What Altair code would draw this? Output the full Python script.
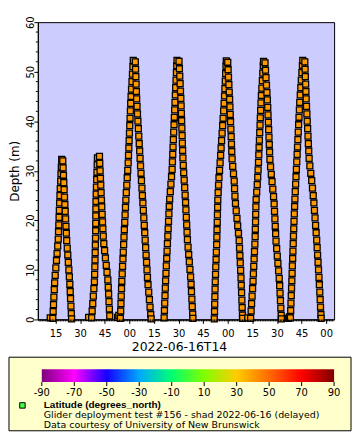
import altair as alt
import pandas as pd

# Glider yos: time in minutes after 2022-06-16 13:00 (local), depth in metres
yo1_minutes = [11.8, 13.36, 13.58, 13.80, 14.03, 14.27, 14.48, 14.83, 15.22, 15.61, 15.97, 16.36, 16.69,
               16.86, 17.02, 17.19, 17.35, 17.52, 17.72, 17.93, 18.15, 18.36, 18.57, 18.79,
               19.44, 19.64, 19.86, 20.08, 20.28, 20.50, 20.73, 20.94, 21.17, 21.39, 21.61, 21.84,
               22.18, 22.50, 22.82, 23.15, 23.46, 23.75, 23.98, 24.19, 24.43, 24.66, 24.83]
yo1_depth = [0.3, 0.2, 1.6, 3.0, 4.5, 6.0, 7.4, 8.9, 10.4, 11.9, 13.3, 14.8, 16.2,
             17.7, 19.1, 20.6, 22.0, 23.5, 25.0, 26.4, 27.9, 29.4, 30.8, 32.3,
             32.0, 30.6, 29.1, 27.6, 26.2, 24.7, 23.2, 21.8, 20.3, 18.8, 17.4, 15.9,
             14.4, 13.0, 11.5, 10.0, 8.6, 7.1, 5.6, 4.2, 2.7, 1.2, 0.1]

yo2_minutes = [35.2, 37.04, 37.36, 37.72, 38.07, 38.41, 38.74, 38.88, 38.99, 39.10, 39.21, 39.32, 39.41,
               39.47, 39.52, 39.58, 39.63, 39.69, 39.83, 39.97, 40.13, 40.28, 40.43, 40.58,
               41.82, 42.01, 42.21, 42.42, 42.61, 42.81, 43.02, 43.23, 43.45, 43.68, 43.90, 44.12,
               44.47, 44.94, 45.44, 45.94, 46.41, 46.90, 47.17, 47.39, 47.62, 47.85, 48.07]
yo2_depth = [0.4, 0.3, 1.7, 3.2, 4.7, 6.2, 7.6, 9.1, 10.6, 12.0, 13.5, 15.0, 16.4,
             17.9, 19.4, 20.9, 22.3, 23.8, 25.3, 26.7, 28.2, 29.7, 31.2, 32.6,
             32.9, 31.5, 30.0, 28.5, 27.1, 25.6, 24.1, 22.7, 21.2, 19.7, 18.3, 16.8,
             15.3, 13.9, 12.4, 10.9, 9.5, 8.0, 6.5, 5.1, 3.6, 2.1, 0.7]

yo3_minutes = [52.9, 53.6, 54.57, 54.75, 54.92, 55.09, 55.27, 55.44, 55.67, 55.89, 56.12, 56.32, 56.55,
               56.77, 56.99, 57.22, 57.44, 57.67, 57.90, 58.18, 58.47, 58.75, 59.04, 59.32, 59.53,
               59.72, 59.91, 60.10, 60.29, 60.48, 60.67, 60.86, 61.09, 61.36, 61.64, 61.92, 62.19, 62.42,
               63.67, 63.84, 64.00, 64.16, 64.33, 64.49, 64.72, 64.99, 65.25, 65.52, 65.78, 66.05,
               66.32, 66.58, 66.85, 67.14, 67.42, 67.71, 67.99, 68.27, 68.56, 68.84, 69.12, 69.40,
               69.68, 69.96, 70.24, 70.52, 70.80, 71.08, 71.43, 71.84, 72.25, 72.65, 73.06, 73.31]
yo3_depth = [0.4, 0.8, 0.2, 1.7, 3.2, 4.7, 6.2, 7.7, 9.2, 10.7, 12.2, 13.6, 15.1,
             16.6, 18.1, 19.6, 21.1, 22.6, 24.1, 25.6, 27.1, 28.6, 30.1, 31.6, 33.1,
             34.6, 36.1, 37.6, 39.1, 40.6, 42.1, 43.6, 45.0, 46.5, 48.0, 49.5, 51.0, 52.3,
             52.0, 50.5, 49.0, 47.5, 46.0, 44.5, 43.0, 41.5, 40.0, 38.5, 37.0, 35.5,
             34.0, 32.5, 31.0, 29.5, 28.0, 26.5, 25.0, 23.5, 22.0, 20.5, 19.0, 17.5,
             16.0, 14.5, 13.0, 11.5, 10.0, 8.5, 7.0, 5.5, 4.0, 2.5, 1.0, 0.1]

yo4_minutes = [81.25, 81.42, 81.59, 81.77, 81.95, 82.12, 82.35, 82.57, 82.79, 83.02, 83.24, 83.47,
               83.69, 83.92, 84.14, 84.36, 84.62, 85.00, 85.38, 85.76, 86.10, 86.30, 86.49, 86.68,
               86.88, 87.07, 87.27, 87.46, 87.66, 87.85, 88.07, 88.28, 88.51, 88.73, 88.93, 89.09,
               90.33, 90.55, 90.77, 90.99, 91.21, 91.43, 91.61, 91.76, 91.91, 92.06, 92.21, 92.36,
               92.52, 92.67, 92.90, 93.18, 93.47, 93.75, 94.04, 94.30, 94.53, 94.76, 94.99, 95.21,
               95.44, 95.82, 96.21, 96.59, 96.98, 97.37, 97.68, 97.91, 98.15, 98.38, 98.62, 98.76]
yo4_depth = [0.3, 1.8, 3.3, 4.8, 6.3, 7.8, 9.3, 10.8, 12.3, 13.8, 15.3, 16.8,
             18.3, 19.8, 21.3, 22.8, 24.3, 25.8, 27.3, 28.8, 30.3, 31.8, 33.3, 34.8,
             36.3, 37.8, 39.3, 40.8, 42.3, 43.8, 45.3, 46.8, 48.3, 49.8, 51.2, 52.3,
             52.1, 50.6, 49.1, 47.6, 46.1, 44.6, 43.1, 41.6, 40.1, 38.6, 37.1, 35.6,
             34.1, 32.6, 31.1, 29.6, 28.1, 26.6, 25.1, 23.6, 22.1, 20.6, 19.1, 17.6,
             16.1, 14.6, 13.1, 11.6, 10.1, 8.6, 7.1, 5.6, 4.1, 2.6, 1.1, 0.2]

yo5_minutes = [111.82, 111.95, 112.06, 112.18, 112.29, 112.41, 112.57, 112.73, 112.90, 113.07, 113.24, 113.38,
               113.49, 113.61, 113.72, 113.84, 113.96, 114.18, 114.41, 114.68, 115.02, 115.36, 115.68, 115.98,
               116.28, 116.59, 116.89, 117.19, 117.50, 117.80, 118.05, 118.27, 118.50, 118.73, 118.96, 119.12,
               120.02, 120.24, 120.47, 120.70, 120.93, 121.15, 121.35, 121.54, 121.73, 121.92, 122.11, 122.30,
               122.48, 122.68, 123.06, 123.52, 123.96, 124.18, 124.41, 124.73, 125.18, 125.64, 126.09, 126.55,
               126.98, 127.21, 127.43, 127.65, 127.87, 128.09, 128.28, 128.46, 128.64, 128.81, 128.99, 129.07]
yo5_depth = [0.1, 1.6, 3.1, 4.6, 6.1, 7.6, 9.1, 10.6, 12.1, 13.6, 15.1, 16.6,
             18.1, 19.6, 21.1, 22.6, 24.1, 25.6, 27.1, 28.6, 30.1, 31.6, 33.1, 34.6,
             36.1, 37.6, 39.1, 40.6, 42.1, 43.6, 45.1, 46.6, 48.1, 49.6, 51.1, 52.2,
             51.9, 50.4, 48.9, 47.4, 45.9, 44.4, 42.9, 41.4, 39.9, 38.4, 36.9, 35.4,
             33.9, 32.4, 30.9, 29.4, 27.9, 26.4, 24.9, 23.4, 21.9, 20.4, 18.9, 17.4,
             15.9, 14.4, 12.9, 11.4, 9.9, 8.4, 6.9, 5.4, 3.9, 2.4, 0.9, 0.2]

yo6_minutes = [132.2, 133.98, 134.27, 134.56, 134.85, 135.15, 135.44, 135.66, 135.88, 136.10, 136.33, 136.55,
               136.72, 136.84, 136.95, 137.06, 137.18, 137.32, 137.66, 138.00, 138.29, 138.52, 138.75,
               138.94, 139.13, 139.32, 139.51, 139.70, 139.88, 140.08, 140.27, 140.53, 140.81, 141.10,
               141.38, 141.67, 141.84,
               142.76, 143.05, 143.33, 143.62, 143.90, 144.19, 144.39, 144.58, 144.77, 144.96, 145.15, 145.34,
               145.53, 145.72, 146.12, 146.58, 147.03, 147.48, 147.94, 148.29, 148.52, 148.75, 148.97, 149.20,
               149.45, 149.84, 150.22, 150.61, 151.00, 151.39, 151.67, 151.90, 152.14, 152.37, 152.60, 152.71]
yo6_depth = [0.3, 0.2, 1.7, 3.2, 4.7, 6.2, 7.7, 9.2, 10.7, 12.2, 13.7, 15.2,
             16.7, 18.2, 19.7, 21.2, 22.7, 24.2, 25.7, 27.2, 28.7, 30.2, 31.7,
             33.2, 34.7, 36.2, 37.7, 39.2, 40.7, 42.2, 43.7, 45.2, 46.7, 48.2,
             49.7, 51.2, 52.1,
             51.8, 50.3, 48.8, 47.3, 45.8, 44.3, 42.8, 41.3, 39.8, 38.3, 36.8, 35.3,
             33.8, 32.3, 30.8, 29.3, 27.8, 26.3, 24.8, 23.3, 21.8, 20.3, 18.8, 17.3,
             15.8, 14.3, 12.8, 11.3, 9.8, 8.3, 6.8, 5.3, 3.8, 2.3, 0.8, 0.1]

yo7_minutes = [156.9, 157.6, 158.22, 158.39, 158.56, 158.74, 158.92, 159.09, 159.25, 159.42, 159.59, 159.76,
               159.92, 160.09, 160.26, 160.43, 160.60, 160.78, 160.96, 161.18, 161.41, 161.64, 161.87,
               162.09, 162.32, 162.55, 162.78, 163.00, 163.23, 163.45, 163.68, 163.91, 164.22, 164.55,
               164.88, 165.21, 165.54, 165.76,
               167.00, 167.17, 167.33, 167.50, 167.66, 167.82, 168.03, 168.26, 168.48, 168.72, 168.94, 169.17,
               169.39, 169.62, 170.08, 170.64, 171.21, 171.67, 172.12, 172.54, 172.88, 173.22, 173.56, 173.90,
               174.24, 174.52, 174.79, 175.07, 175.35, 175.63, 175.88, 176.12, 176.35, 176.58, 176.81, 176.94]
yo7_depth = [0.2, 0.5, 0.3, 1.8, 3.3, 4.8, 6.3, 7.8, 9.3, 10.8, 12.3, 13.8,
             15.3, 16.8, 18.3, 19.8, 21.3, 22.8, 24.3, 25.8, 27.3, 28.8, 30.3,
             31.8, 33.3, 34.8, 36.3, 37.8, 39.3, 40.8, 42.3, 43.8, 45.3, 46.8,
             48.3, 49.8, 51.3, 52.3,
             52.0, 50.5, 49.0, 47.5, 46.0, 44.5, 43.0, 41.5, 40.0, 38.5, 37.0, 35.5,
             34.0, 32.5, 31.0, 29.5, 28.0, 26.5, 25.0, 23.5, 22.0, 20.5, 19.0, 17.5,
             16.0, 14.5, 13.0, 11.5, 10.0, 8.5, 7.0, 5.5, 4.0, 2.5, 1.0, 0.2]

# Colour bar (latitude) and legend text
cbar_values = [-90, -70, -50, -30, -10, 10, 30, 50, 70, 90]
cbar_colors = ["#7f007f", "#ff00ff", "#1400ff", "#00a8ff", "#00ff70",
               "#80ff00", "#ffcc00", "#ff6a00", "#ff0000", "#7f0000"]
legend_lines = ["Latitude (degrees_north)",
                "Glider deployment test #156 - shad 2022-06-16 (delayed)",
                "Data courtesy of University of New Brunswick"]
x_title = "2022-06-16T14"
y_title = "Depth (m)"
y_major = [0, 10, 20, 30, 40, 50, 60]
y_minor = [2, 4, 6, 8, 12, 14, 16, 18, 22, 24, 26, 28, 32, 34, 36, 38,
           42, 44, 46, 48, 52, 54, 56, 58]

FONT = "DejaVu Sans"
W, H = 298, 299

frames = []
for mins, deps in [(yo1_minutes, yo1_depth), (yo2_minutes, yo2_depth), (yo3_minutes, yo3_depth),
                   (yo4_minutes, yo4_depth), (yo5_minutes, yo5_depth), (yo6_minutes, yo6_depth),
                   (yo7_minutes, yo7_depth)]:
    n = min(len(mins), len(deps))
    frames.append(pd.DataFrame({"minutes": mins[:n], "depth": deps[:n]}))
df = pd.concat(frames, ignore_index=True)
base = pd.Timestamp("2022-06-16 13:00:00")
df["time"] = (base + pd.to_timedelta(df["minutes"], unit="min")).dt.strftime("%Y-%m-%dT%H:%M:%S")
df = df[["time", "depth"]]

xscale = alt.Scale(domain=["2022-06-16T13:04:14", "2022-06-16T16:04:51"])
yscale = alt.Scale(domain=[0, 60], nice=False, zero=False)

xaxis = alt.Axis(
    orient="bottom", format="%M", tickCount=12,
    labelFontSize=10, labelPadding=5, labelFlush=False, labelOverlap=False,
    domainColor="black", tickColor="black", labelColor="black", grid=False, tickSize=4,
    title=x_title, titleFontSize=12.5, titleFontWeight="normal", titleColor="black",
    titleX=142, titleY=31, titleAlign="center", titleBaseline="alphabetic")
yaxis = alt.Axis(
    orient="left", values=y_major, tickSize=4,
    labelFontSize=10, labelAngle=-90, labelAlign="center", labelBaseline="alphabetic",
    labelPadding=0.5, labelFlush=False, labelOverlap=False,
    domainColor="black", tickColor="black", labelColor="black", grid=False,
    title=y_title, titleFontSize=12, titleFontWeight="normal", titleColor="black",
    titleX=-23, titleY=149.5, titleAngle=-90, titleAlign="center", titleBaseline="middle")

points = alt.Chart(df).mark_square(
    size=36, filled=True, fill="#ff9900", stroke="black", strokeWidth=1.3, opacity=1
).encode(
    x=alt.X("time:T", scale=xscale, axis=xaxis),
    y=alt.Y("depth:Q", scale=yscale, axis=yaxis),
)

# minor axis ticks (every minute / every 2 m), sharing the same scales and axes
minute_times = [(base + pd.Timedelta(minutes=m)).strftime("%Y-%m-%dT%H:%M:%S") for m in range(5, 185)]
xminor = alt.Chart(pd.DataFrame({"time": minute_times})).mark_rule(color="black", strokeWidth=1).encode(
    x=alt.X("time:T", scale=xscale, axis=xaxis), y=alt.value(H), y2=alt.value(H + 2))
yminor = alt.Chart(pd.DataFrame({"depth": y_minor})).mark_rule(color="black", strokeWidth=1).encode(
    y=alt.Y("depth:Q", scale=yscale, axis=yaxis), x=alt.value(-2), x2=alt.value(0))

# legend box
one = pd.DataFrame({"k": [0]})
box = alt.Chart(one).mark_rect(fill="#ffffcc", stroke="black", strokeWidth=1).encode(
    x=alt.value(-29), x2=alt.value(315), y=alt.value(337), y2=alt.value(411))

bar_x0, bar_x1 = 4, 298
grad = alt.LinearGradient(
    gradient="linear",
    stops=[alt.GradientStop(offset=(v - cbar_values[0]) / (cbar_values[-1] - cbar_values[0]), color=c)
           for v, c in zip(cbar_values, cbar_colors)],
    x1=0, x2=1, y1=0, y2=0)
cbar = alt.Chart(one).mark_rect(fill=grad).encode(
    x=alt.value(bar_x0), x2=alt.value(bar_x1), y=alt.value(349), y2=alt.value(362))

lab_df = pd.DataFrame({
    "v": cbar_values,
    "t": [str(v) for v in cbar_values],
    "px": [bar_x0 + (v - cbar_values[0]) * (bar_x1 - bar_x0) / (cbar_values[-1] - cbar_values[0])
           for v in cbar_values],
})
cticks = alt.Chart(lab_df).mark_rule(color="black", strokeWidth=1).encode(
    x=alt.X("px:Q", scale=None, axis=None), y=alt.value(362), y2=alt.value(366))
clabels = alt.Chart(lab_df).mark_text(fontSize=10, align="center", baseline="middle", color="black").encode(
    x=alt.X("px:Q", scale=None, axis=None), y=alt.value(373), text="t:N")

swatch = alt.Chart(one).mark_square(size=30, filled=True, fill="#44ff44", stroke="black",
                                    strokeWidth=1, opacity=1).encode(
    x=alt.value(-15.5), y=alt.value(385.5))

txt0 = alt.Chart(pd.DataFrame({"t": [legend_lines[0]]})).mark_text(
    font="Liberation Sans", fontSize=10, fontWeight="bold", align="left", baseline="middle", color="black"
).encode(x=alt.value(6), y=alt.value(385), text="t:N")
txt1 = alt.Chart(pd.DataFrame({"t": [legend_lines[1]]})).mark_text(
    fontSize=9.5, align="left", baseline="middle", color="black"
).encode(x=alt.value(6), y=alt.value(395.5), text="t:N")
txt2 = alt.Chart(pd.DataFrame({"t": [legend_lines[2]]})).mark_text(
    fontSize=9.5, align="left", baseline="middle", color="black"
).encode(x=alt.value(6), y=alt.value(405.5), text="t:N")

chart = alt.layer(points, xminor, yminor, box, cbar, cticks, clabels, swatch, txt0, txt1, txt2).properties(
    width=W, height=H,
    padding={"left": 0, "top": 6, "right": 0, "bottom": 0},
    background="white",
).configure(font=FONT).configure_view(fill="#ccccff", stroke="black", strokeWidth=1)

chart.save("out.html", embed_options={"renderer": "svg", "actions": False})
